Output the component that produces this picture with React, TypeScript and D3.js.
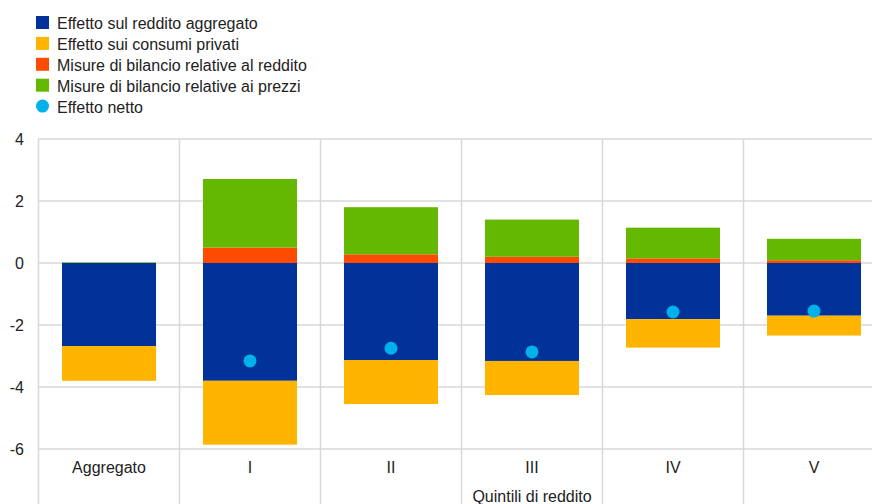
import React from "react";
import * as d3 from "d3";

const categories = ["Aggregato", "I", "II", "III", "IV", "V"];
const redditoAggregato = [-2.68, -3.8, -3.13, -3.16, -1.81, -1.7];
const consumiPrivati = [-1.12, -2.06, -1.42, -1.1, -0.92, -0.64];
const misureReddito = [0.0, 0.5, 0.28, 0.2, 0.15, 0.09];
const misurePrezzi = [0.02, 2.21, 1.52, 1.2, 0.99, 0.69];
const effettoNetto: (number | null)[] = [null, -3.16, -2.75, -2.87, -1.58, -1.55];
const yTicks = [4, 2, 0, -2, -4, -6];

const legendItems = [
  { label: "Effetto sul reddito aggregato", color: "#003299", shape: "rect" },
  { label: "Effetto sui consumi privati", color: "#FFB400", shape: "rect" },
  { label: "Misure di bilancio relative al reddito", color: "#FF4B00", shape: "rect" },
  { label: "Misure di bilancio relative ai prezzi", color: "#65B800", shape: "rect" },
  { label: "Effetto netto", color: "#00B1EA", shape: "circle" },
];

export default function App() {
  const W = 872;
  const H = 504;
  const x = d3
    .scaleBand<string>()
    .domain(categories)
    .range([38.5, 884.5])
    .paddingInner(1 / 3)
    .paddingOuter(1 / 6);
  const y = d3.scaleLinear().domain([-6, 4]).range([449, 139]);
  const step = x.step();
  const font = "Arial, 'Liberation Sans', Helvetica, sans-serif";
  const grid = "#d9d9d9";

  const segs: { i: number; y0: number; y1: number; color: string }[] = [];
  categories.forEach((_, i) => {
    const b = redditoAggregato[i];
    const c = consumiPrivati[i];
    const r = misureReddito[i];
    const p = misurePrezzi[i];
    segs.push({ i, y0: 0, y1: b, color: "#003299" });
    segs.push({ i, y0: b, y1: b + c, color: "#FFB400" });
    segs.push({ i, y0: 0, y1: r, color: "#FF4B00" });
    segs.push({ i, y0: r, y1: r + p, color: "#65B800" });
  });

  return (
    <svg width={W} height={H} style={{ position: "absolute", left: 0, top: 0 }} fontFamily={font}>
      <rect width={W} height={H} fill="#fff" />
      {/* legend */}
      {legendItems.map((it, k) => {
        const top = 16 + k * 20.9;
        return (
          <g key={k}>
            {it.shape === "rect" ? (
              <rect x={36} y={top} width={13} height={13} fill={it.color} />
            ) : (
              <circle cx={42.5} cy={top + 6.5} r={6.5} fill={it.color} />
            )}
            <text x={57} y={top + 13} fontSize={16} fill="#222">
              {it.label}
            </text>
          </g>
        );
      })}
      {/* horizontal grid */}
      {yTicks.map((t) => (
        <g key={t}>
          <line x1={38} x2={W} y1={y(t)} y2={y(t)} stroke={grid} strokeWidth={1.5} />
          <text x={24} y={y(t) + 5.5} fontSize={16} textAnchor="end" fill="#222">
            {t}
          </text>
        </g>
      ))}
      {/* vertical separators */}
      {categories.map((c) => {
        const xv = (x(c) as number) - (step - x.bandwidth()) / 2;
        return <line key={c} x1={xv} x2={xv} y1={139} y2={H} stroke={grid} strokeWidth={1.5} />;
      })}
      {/* bars */}
      {segs.map((s, k) => {
        const top = y(Math.max(s.y0, s.y1));
        const bot = y(Math.min(s.y0, s.y1));
        if (bot - top <= 0) return null;
        return (
          <rect
            key={k}
            x={x(categories[s.i])}
            y={top}
            width={x.bandwidth()}
            height={bot - top}
            fill={s.color}
          />
        );
      })}
      {/* net effect dots */}
      {effettoNetto.map((v, i) =>
        v === null ? null : (
          <circle
            key={i}
            cx={(x(categories[i]) as number) + x.bandwidth() / 2}
            cy={y(v)}
            r={6.5}
            fill="#00B1EA"
          />
        )
      )}
      {/* category labels */}
      {categories.map((c) => (
        <text
          key={c}
          x={(x(c) as number) + x.bandwidth() / 2}
          y={473}
          fontSize={16}
          textAnchor="middle"
          fill="#222"
        >
          {c}
        </text>
      ))}
      <text
        x={((x("I") as number) - (step - x.bandwidth()) / 2 + 884.5) / 2}
        y={502}
        fontSize={16}
        textAnchor="middle"
        fill="#222"
      >
        Quintili di reddito
      </text>
    </svg>
  );
}
